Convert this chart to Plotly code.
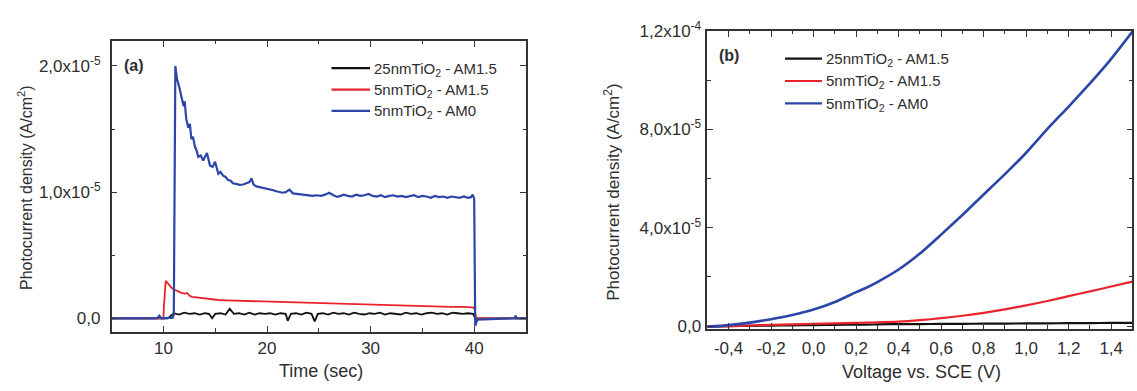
import plotly.graph_objects as go

W, H = 1137, 391
FONT = "Liberation Sans, Arial, sans-serif"
TXT = "#2e2e2e"

series_names = ["25nmTiO<sub>2</sub> - AM1.5", "5nmTiO<sub>2</sub> - AM1.5", "5nmTiO<sub>2</sub> - AM0"]
series_colors = ["#111111", "#e8232b", "#2c45a8"]

# ---------- panel (a): transient photocurrent, values in units of 1e-5 A/cm2 ----------
time_black = [5.0, 9.5, 10.4, 10.6, 11.0, 11.5, 12.0, 12.5, 13.0, 13.5,
              14.0, 14.4, 14.7, 15.0, 15.5, 16.0, 16.4, 16.8, 17.3, 17.8,
              18.3, 18.8, 19.3, 19.8, 20.3, 20.8, 21.3, 21.8, 22.0, 22.3,
              22.8, 23.3, 23.8, 24.3, 24.6, 24.9, 25.4, 25.9, 26.4, 26.9,
              27.4, 27.9, 28.4, 28.9, 29.4, 29.9, 30.4, 30.9, 31.4, 31.9,
              32.4, 32.9, 33.4, 33.9, 34.4, 34.9, 35.4, 35.9, 36.4, 36.9,
              37.4, 37.9, 38.4, 38.9, 39.4, 39.9, 40.1, 40.4, 45.0]
j_black = [0.0, 0.0, 0.0, 0.01, 0.04, 0.03, 0.045, 0.035, 0.04, 0.03,
           0.04, 0.035, 0.0, 0.035, 0.04, 0.03, 0.075, 0.035, 0.04, 0.03,
           0.045, 0.03, 0.04, 0.035, 0.04, 0.03, 0.04, 0.035, -0.02, 0.035,
           0.04, 0.03, 0.045, 0.035, -0.025, 0.035, 0.04, 0.03, 0.045, 0.035,
           0.04, 0.03, 0.045, 0.035, 0.03, 0.04, 0.035, 0.045, 0.03, 0.04,
           0.035, 0.03, 0.045, 0.035, 0.04, 0.03, 0.04, 0.045, 0.035, 0.04,
           0.03, 0.045, 0.04, 0.035, 0.04, 0.035, 0.0, 0.0, 0.0]

time_red = [5.0, 10.0, 10.05, 10.22, 10.5, 10.8, 11.1, 11.44, 11.8, 12.08,
            12.3, 12.5, 12.72, 13.2, 13.68, 14.5, 15.28, 16.1, 16.9, 17.7,
            18.5, 20.0, 21.7, 23.3, 24.9, 26.5, 28.1, 29.7, 31.3, 32.9,
            34.5, 36.1, 37.7, 39.0, 39.8, 40.0, 40.2, 45.0]
j_red = [0.0, 0.0, 0.1, 0.296, 0.27, 0.24, 0.225, 0.21, 0.2, 0.195,
         0.2, 0.18, 0.17, 0.165, 0.16, 0.152, 0.145, 0.142, 0.14, 0.136,
         0.133, 0.13, 0.127, 0.123, 0.12, 0.115, 0.11, 0.106, 0.103, 0.1,
         0.097, 0.093, 0.09, 0.09, 0.09, 0.085, 0.0, 0.0]

time_blue = [5.0, 9.4, 9.6, 9.8, 10.9, 11.0, 11.15, 11.3, 11.5, 11.75,
             11.95, 12.05, 12.2, 12.4, 12.55, 12.7, 12.85, 13.04, 13.2, 13.36,
             13.6, 13.84, 14.05, 14.2, 14.5, 14.75, 14.98, 15.3, 15.5, 15.76,
             16.0, 16.24, 16.5, 16.7, 17.0, 17.36, 17.7, 18.0, 18.3, 18.5,
             18.7, 18.97, 19.3, 19.6, 19.9, 20.25, 20.6, 20.9, 21.2, 21.5,
             21.8, 22.16, 22.5, 22.8, 23.2, 23.6, 24.0, 24.4, 24.8, 25.2,
             25.6, 26.0, 26.4, 26.8, 27.1, 27.4, 27.8, 28.2, 28.6, 29.0,
             29.4, 29.8, 30.2, 30.6, 31.0, 31.4, 31.8, 32.2, 32.6, 33.0,
             33.4, 33.8, 34.2, 34.6, 35.0, 35.4, 35.8, 36.2, 36.6, 37.0,
             37.4, 37.8, 38.2, 38.6, 39.0, 39.4, 39.7, 39.85, 40.0, 40.1,
             40.3, 43.9, 44.0, 44.1, 45.0]
j_blue = [0.0, 0.0, 0.02, 0.0, 0.005, 0.03, 2.0, 1.9, 1.84, 1.76,
          1.68, 1.72, 1.58, 1.51, 1.54, 1.42, 1.44, 1.36, 1.33, 1.28,
          1.29, 1.25, 1.29, 1.31, 1.21, 1.2, 1.24, 1.145, 1.16, 1.13,
          1.12, 1.095, 1.09, 1.07, 1.065, 1.057, 1.06, 1.07, 1.08, 1.108,
          1.06, 1.045, 1.04, 1.032, 1.03, 1.02, 1.015, 1.007, 1.0, 0.995,
          1.0, 1.02, 0.99, 0.987, 0.985, 0.982, 0.975, 0.97, 0.975, 0.97,
          0.98, 0.995, 0.975, 0.962, 0.97, 0.98, 0.97, 0.965, 0.98, 0.97,
          0.975, 0.985, 0.97, 0.965, 0.975, 0.96, 0.97, 0.975, 0.965, 0.97,
          0.96, 0.97, 0.975, 0.96, 0.97, 0.965, 0.955, 0.97, 0.96, 0.965,
          0.955, 0.965, 0.96, 0.955, 0.965, 0.955, 0.96, 0.98, 0.95, -0.06,
          -0.01, 0.0, 0.02, 0.0, 0.0]

# ---------- panel (b): photocurrent vs voltage, values in units of 1e-5 A/cm2 ----------
voltage = [-0.5, -0.4, -0.3, -0.2, -0.1, 0.0, 0.1, 0.2, 0.25, 0.3, 0.4,
           0.5, 0.6, 0.7, 0.8, 0.9, 1.0, 1.1, 1.2, 1.3, 1.4, 1.5]
jv_black = [-0.02, 0.0, 0.01, 0.02, 0.03, 0.04, 0.05, 0.06, 0.06, 0.07, 0.08,
            0.08, 0.09, 0.09, 0.1, 0.1, 0.11, 0.11, 0.12, 0.12, 0.13, 0.13]
jv_red = [-0.02, 0.0, 0.02, 0.05, 0.07, 0.09, 0.11, 0.13, 0.14, 0.15, 0.18,
          0.24, 0.32, 0.42, 0.54, 0.68, 0.84, 1.02, 1.22, 1.41, 1.61, 1.81]
jv_blue = [-0.03, 0.04, 0.14, 0.28, 0.45, 0.67, 0.98, 1.38, 1.57, 1.79, 2.3,
           2.95, 3.72, 4.52, 5.35, 6.18, 7.05, 8.02, 8.93, 9.87, 10.87, 11.98]

# tick definitions
a_x_ticks = [10, 20, 30, 40]
a_x_minor = [5, 15, 25, 35, 45]
a_y_ticks = [0.0, 1e-5, 2e-5]
a_y_labels = ["0,0", "1,0x10<sup>-5</sup>", "2,0x10<sup>-5</sup>"]
a_y_minor = [0.5e-5, 1.5e-5]

b_x_ticks = [-0.4, -0.2, 0.0, 0.2, 0.4, 0.6, 0.8, 1.0, 1.2, 1.4]
b_x_labels = ["-0,4", "-0,2", "0,0", "0,2", "0,4", "0,6", "0,8", "1,0", "1,2", "1,4"]
b_x_minor = [-0.5, -0.3, -0.1, 0.1, 0.3, 0.5, 0.7, 0.9, 1.1, 1.3, 1.5]
b_y_ticks = [0.0, 4e-5, 8e-5, 1.2e-4]
b_y_labels = ["0,0", "4,0x10<sup>-5</sup>", "8,0x10<sup>-5</sup>", "1,2x10<sup>-4</sup>"]
b_y_minor = [2e-5, 6e-5, 1e-4]

SCALE = 1e-5
fig = go.Figure()
panel_a = [(time_black, j_black), (time_red, j_red), (time_blue, j_blue)]
panel_b = [(voltage, jv_black), (voltage, jv_red), (voltage, jv_blue)]
for i, (xs, ys) in enumerate(panel_a):
    fig.add_trace(go.Scatter(x=xs, y=[v * SCALE for v in ys], mode="lines",
                             line=dict(color=series_colors[i], width=2.2 if i == 2 else 1.8),
                             name=series_names[i], showlegend=False, xaxis="x", yaxis="y"))
for i, (xs, ys) in enumerate(panel_b):
    fig.add_trace(go.Scatter(x=xs, y=[v * SCALE for v in ys], mode="lines",
                             line=dict(color=series_colors[i], width=2.6 if i == 2 else 2.2,
                                       shape="spline", smoothing=0.6),
                             name=series_names[i], showlegend=False, xaxis="x2", yaxis="y2"))

def axis_style(**kw):
    d = dict(showline=True, linecolor="#333333", linewidth=1.5, mirror="allticks",
             ticks="inside", ticklen=6, tickwidth=1.4, tickcolor="#333333",
             showgrid=False, zeroline=False,
             tickfont=dict(family=FONT, size=17, color=TXT))
    d.update(kw)
    return d

def minor_style(vals):
    return dict(tickmode="array", tickvals=vals, ticks="inside", ticklen=3.5,
                tickwidth=1.2, tickcolor="#333333", showgrid=False)

fig.update_layout(
    width=W, height=H, margin=dict(l=0, r=0, t=0, b=0),
    paper_bgcolor="white", plot_bgcolor="white", showlegend=False,
    font=dict(family=FONT, color=TXT, size=16),
    xaxis=axis_style(domain=[0.0982, 0.4626], range=[5, 45], anchor="y",
                     tickmode="array", tickvals=a_x_ticks, ticktext=[str(t) for t in a_x_ticks],
                     minor=minor_style(a_x_minor), ticklabelstandoff=0),
    yaxis=axis_style(domain=[0.1407, 0.9215], range=[-0.106e-5, 2.196e-5], anchor="x",
                     tickmode="array", tickvals=a_y_ticks, ticktext=a_y_labels,
                     minor=minor_style(a_y_minor), ticklabelstandoff=6),
    xaxis2=axis_style(domain=[0.6221, 0.9960], range=[-0.5, 1.5], anchor="y2",
                      tickmode="array", tickvals=b_x_ticks, ticktext=b_x_labels,
                      minor=minor_style(b_x_minor), ticklabelstandoff=3),
    yaxis2=axis_style(domain=[0.1491, 0.9488], range=[-0.1e-5, 1.2e-4], anchor="x2",
                      tickmode="array", tickvals=b_y_ticks, ticktext=b_y_labels,
                      minor=minor_style(b_y_minor), ticklabelstandoff=1),
)

def px(x):
    return x / W

def py(y):
    return 1 - y / H

ann = []
shapes = []
# axis titles
ann.append(dict(text="Time (sec)", x=px(321), y=py(377), font=dict(size=18)))
ann.append(dict(text="Voltage vs. SCE (V)", x=px(921), y=py(378), font=dict(size=18)))
ann.append(dict(text="Photocurrent density (A/cm<sup>2</sup>)", x=px(25), y=py(185),
                textangle=-90, font=dict(size=16)))
ann.append(dict(text="Photocurrent density (A/cm<sup>2</sup>)", x=px(612), y=py(190),
                textangle=-90, font=dict(size=17)))
# panel labels
ann.append(dict(text="<b>(a)</b>", x=px(122), y=py(56), xanchor="left", font=dict(size=16)))
ann.append(dict(text="<b>(b)</b>", x=px(717), y=py(46), xanchor="left", font=dict(size=16)))

# legends (drawn as line samples + text)
legend_specs = [
    dict(x0=331.5, x1=370, tx=372, rows=[59, 81.5, 104]),
    dict(x0=785, x1=822, tx=824, rows=[49, 72.5, 96]),
]
for spec in legend_specs:
    for i, name in enumerate(series_names):
        yy = spec["rows"][i]
        shapes.append(dict(type="line", xref="paper", yref="paper",
                           x0=px(spec["x0"]), x1=px(spec["x1"]), y0=py(yy), y1=py(yy),
                           line=dict(color=series_colors[i], width=2.2)))
        ann.append(dict(text=name, x=px(spec["tx"]), y=py(yy + 1), xanchor="left",
                        font=dict(size=15)))

for a in ann:
    a.setdefault("xanchor", "center")
    a.setdefault("yanchor", "middle")
    a.update(xref="paper", yref="paper", showarrow=False)
    a["font"] = dict(family=FONT, color=TXT, **a["font"])
fig.update_layout(annotations=ann, shapes=shapes)

fig.write_html(
    "out.html",
    config={"displayModeBar": False},
    post_script="document.body.style.margin='0';document.body.style.padding='0';"
                "document.body.style.overflow='hidden';",
)
